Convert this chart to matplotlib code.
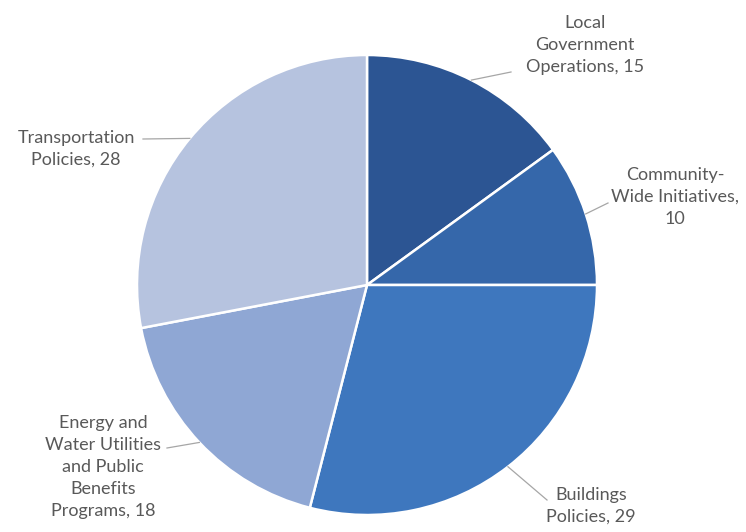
import numpy as np
import matplotlib
matplotlib.use("Agg")
import matplotlib.pyplot as plt

# slice data, clockwise from 12 o'clock
categories = ["Local\nGovernment\nOperations",
              "Community-\nWide Initiatives,",
              "Buildings\nPolicies",
              "Energy and\nWater Utilities\nand Public\nBenefits\nPrograms",
              "Transportation\nPolicies"]
values = [15, 10, 29, 18, 28]
colors = ["#2C5593", "#3567AA", "#3E77BE", "#8FA7D4", "#B6C3DF"]

W, H = 746, 532

def px(x, y):
    # pixel coords measured from top-left
    return x, H - y

plt.rcParams['font.family'] = ['Lato', 'DejaVu Sans']

fig = plt.figure(figsize=(W / 100, H / 100), dpi=100)
ax = fig.add_axes([0, 0, 1, 1])

cx, cy = px(367, 285)
r = 230
wedges, _ = ax.pie(values, colors=colors, startangle=90, counterclock=False,
                   center=(cx, cy), radius=r,
                   wedgeprops=dict(edgecolor="white", linewidth=1.8))
ax.set_xlim(0, W)
ax.set_ylim(0, H)
ax.set_aspect("equal")
ax.axis("off")

# label text centre and the end of each leader line on the text side
text_pos = [px(585, 45), px(675, 197), px(591, 506), px(103, 467), px(76, 149)]
line_end = [px(511, 72), px(608, 203), px(547, 500), px(167, 448), px(143, 139)]

for w, name, v, tp, le in zip(wedges, categories, values, text_pos, line_end):
    mid = np.deg2rad((w.theta1 + w.theta2) / 2)
    ex, ey = cx + r * np.cos(mid), cy + r * np.sin(mid)
    ax.plot([ex, le[0]], [ey, le[1]], color="#A6A6A6", lw=0.9)
    if name.endswith(","):
        label = f"{name}\n{v}"
    else:
        label = f"{name}, {v}"
    ax.text(tp[0], tp[1], label, ha="center", va="center", fontsize=13,
            color="#595959", linespacing=1.45)

fig.savefig("out.png", dpi=100)
